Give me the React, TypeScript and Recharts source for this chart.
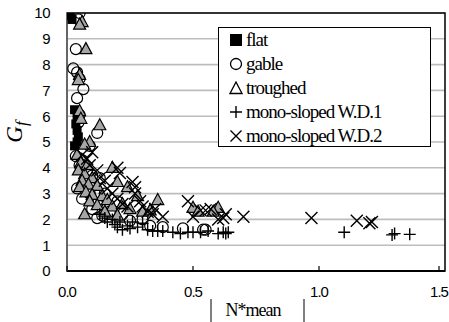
import React from 'react';
import {
  ScatterChart, Scatter, XAxis, YAxis, CartesianGrid, ReferenceArea,
} from 'recharts';

// [N*mean, Gf]
const flatPts = [
  [0.01, 9.9], [0.02, 9.75], [0.03, 6.25], [0.04, 6.0], [0.035, 5.7],
  [0.04, 5.45], [0.045, 5.2], [0.04, 5.0], [0.03, 4.85],
];
const gablePts = [
  [0.05, 10.0], [0.045, 9.75], [0.035, 8.6], [0.025, 7.85], [0.04, 7.7], [0.05, 7.45],
  [0.065, 7.05], [0.04, 6.7], [0.05, 6.05], [0.045, 5.75], [0.12, 5.35], [0.09, 4.85],
  [0.035, 4.45], [0.06, 4.3], [0.05, 4.1], [0.08, 3.9], [0.1, 3.7], [0.07, 3.4],
  [0.13, 3.6], [0.04, 3.2], [0.09, 3.0], [0.15, 3.0], [0.06, 2.8], [0.12, 2.6],
  [0.2, 2.7], [0.1, 2.4], [0.17, 2.3], [0.14, 2.15], [0.22, 2.2], [0.25, 1.95],
  [0.3, 2.0], [0.12, 2.05], [0.38, 1.7], [0.46, 1.65], [0.54, 1.6], [0.55, 1.6], [0.33, 1.75],
];
const troughedPts = [
  [0.06, 9.65], [0.05, 9.55], [0.075, 8.6], [0.05, 7.6], [0.045, 7.4], [0.05, 6.2],
  [0.055, 5.9], [0.13, 5.65], [0.09, 5.0], [0.07, 4.9], [0.04, 4.5], [0.055, 4.2],
  [0.08, 4.1], [0.045, 3.9], [0.07, 3.75], [0.1, 3.6], [0.06, 3.5], [0.085, 3.35],
  [0.05, 3.25], [0.12, 3.3], [0.18, 4.0], [0.2, 3.45], [0.075, 3.05], [0.1, 2.95],
  [0.14, 2.9], [0.16, 2.75], [0.09, 2.7], [0.12, 2.55], [0.18, 2.5], [0.22, 2.6],
  [0.24, 3.25], [0.25, 2.4], [0.15, 2.3], [0.28, 2.9], [0.3, 2.3], [0.2, 2.15],
  [0.36, 2.75], [0.33, 2.35], [0.5, 2.45], [0.52, 2.3], [0.6, 2.45], [0.58, 2.3], [0.07, 2.2],
];
const mono1Pts = [
  [0.13, 2.2], [0.15, 2.05], [0.16, 1.9], [0.18, 2.0], [0.19, 1.8], [0.2, 1.7],
  [0.21, 1.9], [0.22, 1.6], [0.24, 1.75], [0.25, 1.65], [0.26, 1.9], [0.28, 1.7],
  [0.3, 1.85], [0.32, 1.6], [0.34, 1.55], [0.36, 1.55], [0.38, 1.55], [0.42, 1.5],
  [0.45, 1.45], [0.48, 1.5], [0.5, 1.5], [0.53, 1.5], [0.56, 1.55], [0.6, 1.45],
  [0.62, 1.5], [0.63, 1.45], [0.64, 1.5], [1.1, 1.5], [1.29, 1.4], [1.3, 1.45], [1.36, 1.42],
];
const mono2Pts = [
  [0.06, 4.5], [0.08, 4.35], [0.1, 4.6], [0.09, 4.1], [0.12, 3.9], [0.13, 3.6],
  [0.15, 3.5], [0.16, 3.2], [0.2, 4.0], [0.21, 3.8], [0.18, 3.0], [0.2, 2.8],
  [0.22, 2.6], [0.24, 2.5], [0.26, 3.45], [0.27, 3.25], [0.27, 3.0], [0.29, 2.7],
  [0.3, 2.5], [0.32, 2.3], [0.34, 2.2], [0.35, 2.4], [0.38, 2.1], [0.48, 2.7],
  [0.5, 2.1], [0.53, 2.35], [0.55, 2.35], [0.57, 2.4], [0.6, 2.0], [0.62, 2.05],
  [0.63, 2.2], [0.7, 2.1], [0.97, 2.05], [1.15, 1.95], [1.2, 1.85], [1.21, 1.9],
];

const xTicks = [0, 0.5, 1.0, 1.5];
const yTicks = [0, 1, 2, 3, 4, 5, 6, 7, 8, 9, 10];
const legendNames = ['flat', 'gable', 'troughed', 'mono-sloped W.D.1', 'mono-sloped W.D.2'];

const toRows = (pts: number[][]) => pts.map(([x, y]) => ({ x, y }));

const sansFont = '"Liberation Sans", Arial, sans-serif';
const serifFont = '"Liberation Serif", "Times New Roman", serif';

const Square = ({ cx, cy }: any) => (
  <rect x={cx - 4.5} y={cy - 4.5} width={9} height={9} fill="#000" />
);
const Circle = ({ cx, cy, fill = 'none' }: any) => (
  <circle cx={cx} cy={cy} r={5.5} fill={fill} stroke="#000" strokeWidth={1.2} />
);
const Triangle = ({ cx, cy, fill = '#a6a6a6' }: any) => (
  <path d={`M${cx},${cy - 6.5} L${cx + 6},${cy + 4.5} L${cx - 6},${cy + 4.5} Z`}
    fill={fill} stroke="#000" strokeWidth={1.2} />
);
const Plus = ({ cx, cy }: any) => (
  <path d={`M${cx - 6},${cy} H${cx + 6} M${cx},${cy - 6} V${cy + 6}`} stroke="#000" strokeWidth={1.4} />
);
const Cross = ({ cx, cy }: any) => (
  <path d={`M${cx - 6},${cy - 6} L${cx + 6},${cy + 6} M${cx + 6},${cy - 6} L${cx - 6},${cy + 6}`}
    stroke="#000" strokeWidth={1.4} />
);

const XTick = ({ x, y, payload }: any) => (
  <g>
    <line x1={x} x2={x} y1={y} y2={y - 5} stroke="#000" strokeWidth={1.2} />
    <text x={x} y={y + 26} textAnchor="middle" fontFamily={sansFont} fontSize={15}
      letterSpacing={-1} fill="#000">
      {payload.value.toFixed(1)}
    </text>
  </g>
);

const YTick = ({ x, y, payload }: any) => (
  <text x={x - 17} y={y} dy="0.36em" textAnchor="end" fontFamily={sansFont} fontSize={15}
    letterSpacing={-0.5} fill="#000">
    {payload.value}
  </text>
);

const YLabel = ({ viewBox }: any) => {
  const cx = viewBox.x + 22;
  const cy = viewBox.y + viewBox.height / 2 - 10;
  return (
    <text transform={`rotate(-90 ${cx} ${cy})`} x={cx} y={cy} textAnchor="middle"
      fontFamily={serifFont} fontStyle="italic" fontSize={23} fill="#000">
      G<tspan fontSize={17} dy={5}>f</tspan>
    </text>
  );
};

const XLabel = ({ viewBox }: any) => {
  const top = viewBox.y + viewBox.height;
  return (
    <g>
      <line x1={211} x2={211} y1={top - 23} y2={top} stroke="#000" strokeWidth={1} />
      <line x1={304} x2={304} y1={top - 23} y2={top} stroke="#000" strokeWidth={1} />
      <text x={253} y={top - 6} textAnchor="middle" fontFamily={serifFont} fontSize={18}
        letterSpacing={-1} fill="#000">N*mean</text>
    </g>
  );
};

const legendIcons = [
  <rect x={1} y={1} width={12} height={12} fill="#000" />,
  <circle cx={7} cy={7} r={5.5} fill="none" stroke="#000" strokeWidth={1.3} />,
  <path d="M7,1 L13,12.5 L1,12.5 Z" fill="none" stroke="#000" strokeWidth={1.3} />,
  <path d="M1,7 H13 M7,1 V13" stroke="#000" strokeWidth={1.4} />,
  <path d="M1.5,1.5 L12.5,12.5 M12.5,1.5 L1.5,12.5" stroke="#000" strokeWidth={1.4} />,
];

const App = () => {
  return (
    <div style={{ position: 'absolute', left: 0, top: 0, width: 449, height: 322, background: '#fff' }}>
      <ScatterChart width={449} height={322} margin={{ top: 13, right: 4, left: 0, bottom: 0 }}>
        <CartesianGrid vertical={false} stroke="#bdbdbd" strokeWidth={1.6} />
        <XAxis type="number" dataKey="x" domain={[0, 1.5]} ticks={xTicks} height={51}
          tickSize={0} tickMargin={0} tickLine={false} tick={<XTick />}
          axisLine={{ stroke: '#000', strokeWidth: 2 }} label={<XLabel />} allowDataOverflow />
        <YAxis type="number" dataKey="y" domain={[0, 10]} ticks={yTicks} width={67}
          tickSize={0} tickMargin={0} tickLine={false} tick={<YTick />}
          axisLine={{ stroke: '#666', strokeWidth: 2 }} label={<YLabel />} allowDataOverflow />
        <ReferenceArea x1={0} x2={1.5} y1={0} y2={10} fill="none" stroke="#000" strokeWidth={1.5} />
        <Scatter name="flat" data={toRows(flatPts)} shape={<Square />} isAnimationActive={false} />
        <Scatter name="gable" data={toRows(gablePts)} shape={<Circle />} isAnimationActive={false} />
        <Scatter name="troughed" data={toRows(troughedPts)} shape={<Triangle />} isAnimationActive={false} />
        <Scatter name="mono-sloped W.D.1" data={toRows(mono1Pts)} shape={<Plus />} isAnimationActive={false} />
        <Scatter name="mono-sloped W.D.2" data={toRows(mono2Pts)} shape={<Cross />} isAnimationActive={false} />
      </ScatterChart>
      <div style={{
        position: 'absolute', left: 218, top: 27, width: 211, height: 118, background: '#fff',
        border: '1.5px solid #000', fontFamily: serifFont, fontSize: 19, letterSpacing: -1,
        boxSizing: 'content-box',
      }}>
        {legendNames.map((name, i) => (
          <div key={name} style={{ display: 'flex', alignItems: 'center', height: 24, paddingLeft: 10 }}>
            <svg width={14} height={14} style={{ marginRight: 3 }}>{legendIcons[i]}</svg>
            <span>{name}</span>
          </div>
        ))}
      </div>
    </div>
  );
};

export default App;
